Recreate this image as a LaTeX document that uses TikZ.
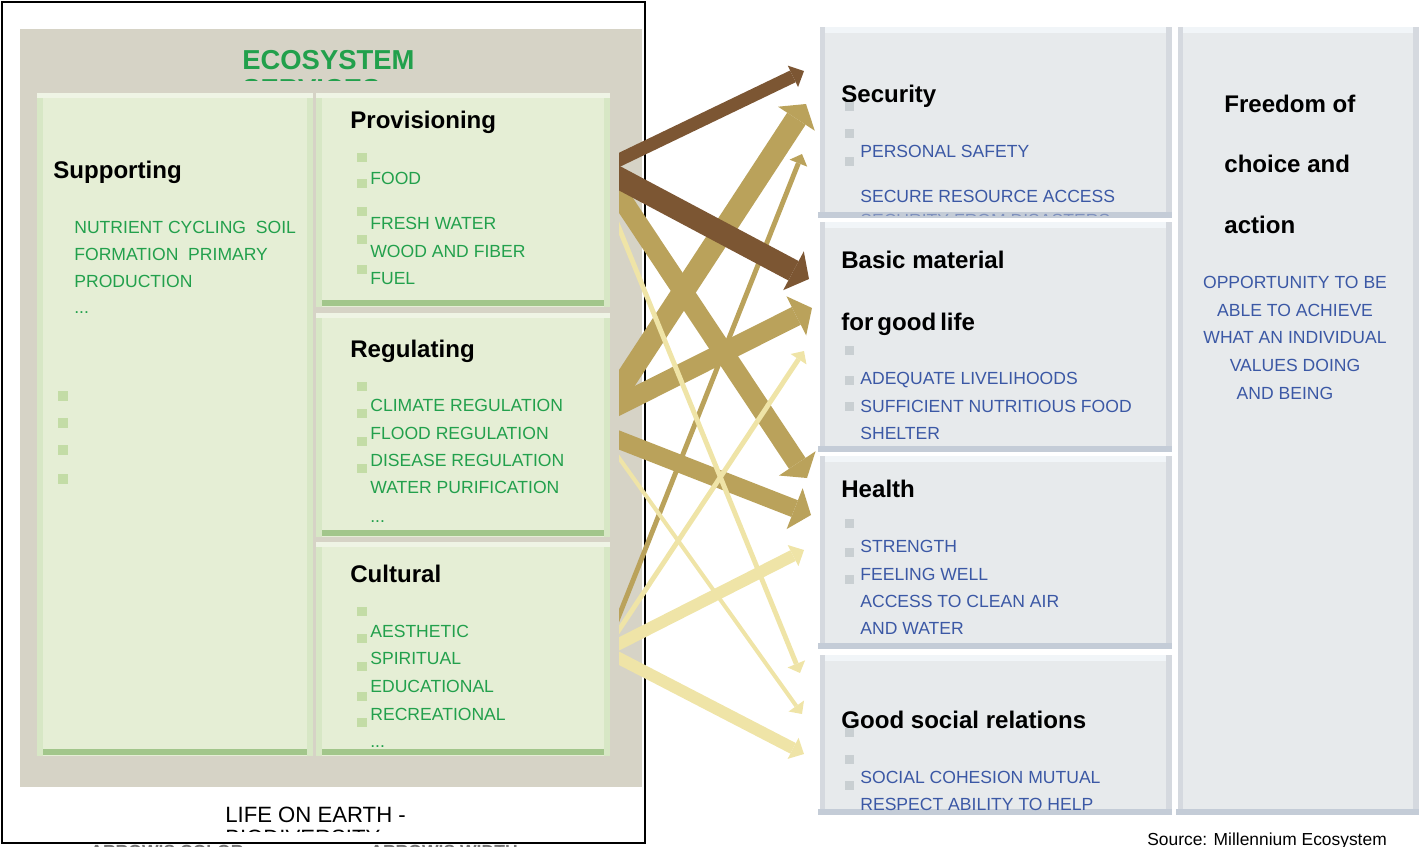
\documentclass[tikz,border=0pt]{standalone}
\usepackage{fontspec}
\setmainfont{Liberation Sans}
\usetikzlibrary{arrows.meta}

\definecolor{panelgray}{HTML}{D6D3C6}
\definecolor{svcfill}{HTML}{E5EED5}
\definecolor{svcside}{HTML}{D7E7C5}
\definecolor{svctop}{HTML}{EFF4E5}
\definecolor{svcbase}{HTML}{A2C68B}
\definecolor{svcdot}{HTML}{C3DCA6}
\definecolor{svcgreen}{HTML}{22A04C}
\definecolor{wbfill}{HTML}{E7EAEC}
\definecolor{wbside}{HTML}{D5D9DF}
\definecolor{wbtop}{HTML}{F1F5F8}
\definecolor{wbbase}{HTML}{C4CCD7}
\definecolor{wbdot}{HTML}{C9CFD2}
\definecolor{wbblue}{HTML}{3B58A5}
\definecolor{flowbrown}{HTML}{7C5633}
\definecolor{flowtan}{HTML}{BAA25B}
\definecolor{flowlight}{HTML}{EFE4A7}

% green service box: fill, side strips, light top, dark base
\newcommand{\svcbox}[4]{%
  \fill[svcfill] (#1,#2) rectangle (#3,#4);
  \fill[svcside] (#1,#2) rectangle (#1+6,#4);
  \fill[svcside] (#3-6,#2) rectangle (#3,#4);
  \fill[svctop] (#1,#2) rectangle (#3,#2+5);
  \fill[svcbase] (#1+6,#4-7) rectangle (#3-6,#4-1);
}
% grey well-being box
\newcommand{\wbbox}[4]{%
  \fill[wbfill] (#1,#2) rectangle (#3,#4);
  \fill[wbside] (#1,#2) rectangle (#1+5,#4);
  \fill[wbside] (#3-6,#2) rectangle (#3,#4);
  \fill[wbtop] (#1+5,#2) rectangle (#3-6,#2+6);
  \fill[wbbase] (#1-2,#4-6) rectangle (#3,#4);
}

\tikzset{
  title/.style={anchor=base west, inner sep=0pt, text=svcgreen,
    font=\fontsize{15.6}{18}\selectfont\bfseries},
  head/.style={anchor=base west, inner sep=0pt,
    font=\fontsize{13.7}{16}\selectfont\bfseries},
  svc/.style={anchor=base west, inner sep=0pt, text=svcgreen,
    font=\fontsize{10}{12}\selectfont},
  wb/.style={anchor=base west, inner sep=0pt, text=wbblue,
    font=\fontsize{10}{12}\selectfont},
  wbc/.style={wb, anchor=base},
  bigflow/.style={line width=#1, -{Triangle[length=10pt,width=25pt,line width=0pt]}},
  midflow/.style={line width=#1, -{Triangle[length=7pt,width=13.5pt,line width=0pt]}},
  thinflow/.style={line width=#1, -{Triangle[length=5.6pt,width=10.8pt,line width=0pt]}},
}

\begin{document}
\begin{tikzpicture}[x=0.02cm, y=-0.02cm]
\useasboundingbox (0,0) rectangle (1419,846);

% ecosystem services side
\fill[panelgray] (20,29) rectangle (642,787);
\draw[line width=1.1pt] (2,2) rectangle (645,843);

\begin{scope}
\clip (20,29) rectangle (642,80.5);
\node[title] (title) at (242,69) {ECOSYSTEM};
\node[title] (title2) at (242,98) {SERVICES};
\end{scope}

\svcbox{37}{93}{313}{756}
\svcbox{316}{93}{610}{307}
\svcbox{316}{313}{610}{537}
\svcbox{316}{542}{610}{756}

\node[head] (supp) at (53,178) {Supporting};
\node[svc] (supp1) at (74,233) {NUTRIENT CYCLING~~SOIL};
\node[svc] (supp2) at (74,260) {FORMATION~~PRIMARY};
\node[svc] (supp3) at (74,287) {PRODUCTION};
\node[svc] (supp4) at (74,313) {...};
\foreach \y in {396,423,450,479}
  \fill[svcdot] (58,\y-5) rectangle (68,\y+5);

\node[head] (prov) at (350,128) {Provisioning};
\node[svc] (prov1) at (370,184) {FOOD};
\node[svc] (prov2) at (370,229) {FRESH WATER};
\node[svc] (prov3) at (370,257) {WOOD AND FIBER};
\node[svc] (prov4) at (370,284) {FUEL};
\foreach \y in {157.5,183.5,211.5,239.5,269.5}
  \fill[svcdot] (357,\y-4.5) rectangle (367,\y+4.5);

\node[head] (reg) at (350,357) {Regulating};
\node[svc] (reg1) at (370,411) {CLIMATE REGULATION};
\node[svc] (reg2) at (370,439) {FLOOD REGULATION};
\node[svc] (reg3) at (370,466) {DISEASE REGULATION};
\node[svc] (reg4) at (370,493) {WATER PURIFICATION};
\node[svc] (reg5) at (370,522) {...};
\foreach \y in {386.5,413,441.5,468.5}
  \fill[svcdot] (357,\y-4.5) rectangle (367,\y+4.5);

\node[head] (cult) at (350,582) {Cultural};
\node[svc] (cult1) at (370,637) {AESTHETIC};
\node[svc] (cult2) at (370,664) {SPIRITUAL};
\node[svc] (cult3) at (370,692) {EDUCATIONAL};
\node[svc] (cult4) at (370,720) {RECREATIONAL};
\node[svc] (cult5) at (370,747) {...};
\foreach \y in {611.5,638.5,666.5,696.5,722}
  \fill[svcdot] (357,\y-4.5) rectangle (367,\y+4.5);

\node[anchor=base west, inner sep=0pt, font=\fontsize{12.6}{15}\selectfont]
  (life) at (225,822) {LIFE ON EARTH -};
\begin{scope}
\clip (200,824) rectangle (500,831);
\node[anchor=base west, inner sep=0pt, font=\fontsize{12.6}{15}\selectfont]
  (life2) at (225,845) {BIODIVERSITY};
\end{scope}
\begin{scope}
\clip (0,844.6) rectangle (645,846);
\node[anchor=base west, inner sep=0pt, text=black!55, font=\fontsize{10}{12}\selectfont\bfseries]
  (key1) at (90,857.5) {ARROW'S COLOR};
\node[anchor=base west, inner sep=0pt, text=black!55, font=\fontsize{10}{12}\selectfont\bfseries]
  (key2) at (370,857.5) {ARROW'S WIDTH};
\end{scope}

% well-being side
\wbbox{820}{27}{1172}{218}
\wbbox{820}{222}{1172}{452}
\wbbox{820}{456}{1172}{649}
\wbbox{820}{655}{1172}{815}
\wbbox{1178}{27}{1419}{815}

\node[head] (sec) at (841,102) {Security};
\node[wb] (sec1) at (860,157) {PERSONAL SAFETY};
\node[wb] (sec2) at (860,202) {SECURE RESOURCE ACCESS};
\begin{scope}
\clip (820,212) rectangle (1172,215.5);
\node[wb, opacity=0.5] (sec3) at (860,226) {SECURITY FROM DISASTERS};
\end{scope}
\foreach \y in {106,133,161}
  \fill[wbdot] (845,\y-4.5) rectangle (854,\y+4.5);

\node[head] (mat) at (841,268) {Basic material};
\node[head] (mat2) at (841,330) {for\,good\,life};
\node[wb] (mat3) at (860,384) {ADEQUATE LIVELIHOODS};
\node[wb] (mat4) at (860,412) {SUFFICIENT NUTRITIOUS FOOD};
\node[wb] (mat5) at (860,439) {SHELTER};
\foreach \y in {350.5,380.5,406.5}
  \fill[wbdot] (845,\y-4.5) rectangle (854,\y+4.5);

\node[head] (hlth) at (841,497) {Health};
\node[wb] (hlth1) at (860,552) {STRENGTH};
\node[wb] (hlth2) at (860,580) {FEELING WELL};
\node[wb] (hlth3) at (860,607) {ACCESS TO CLEAN AIR};
\node[wb] (hlth4) at (860,634) {AND WATER};
\foreach \y in {523,552,579}
  \fill[wbdot] (845,\y-4.5) rectangle (854,\y+4.5);

\node[head] (soc) at (841,728) {Good social relations};
\node[wb] (soc1) at (860,783) {SOCIAL COHESION MUTUAL};
\node[wb] (soc2) at (860,810) {RESPECT ABILITY TO HELP};
\foreach \y in {732.5,759,785}
  \fill[wbdot] (845,\y-4.5) rectangle (854,\y+4.5);

\node[head] (free) at (1224,112) {Freedom of};
\node[head] (free2) at (1224,172) {choice and};
\node[head] (free3) at (1224,233) {action};
\node[wbc] (free4) at (1295,288) {OPPORTUNITY TO BE};
\node[wbc] (free5) at (1295,316) {ABLE TO ACHIEVE};
\node[wbc] (free6) at (1295,343) {WHAT AN INDIVIDUAL};
\node[wbc] (free7) at (1295,371) {VALUES DOING};
\node[wbc] (free8) at (1285,399) {AND BEING};

\node[anchor=base west, inner sep=0pt, font=\fontsize{9.9}{12}\selectfont]
  (source) at (1147,845) {Source: Millennium Ecosystem};

% flow ends: service side
\coordinate (prov-a) at (605,166.7);
\coordinate (prov-b) at (605,170.6);
\coordinate (prov-c) at (605,173.9);
\coordinate (prov-d) at (605,193.6);
\coordinate (reg-a) at (605,411.4);
\coordinate (reg-b) at (605,412);
\coordinate (reg-c) at (605,434.5);
\coordinate (reg-d) at (605,438.4);
\coordinate (cult-o) at (605,651);
% flow ends: well-being side
\coordinate (sec-a) at (804,71);
\coordinate (sec-b) at (806,104);
\coordinate (sec-c) at (802,154);
\coordinate (mat-a) at (809,279);
\coordinate (mat-b) at (812,308);
\coordinate (mat-c) at (804,351);
\coordinate (hlth-a) at (807,478);
\coordinate (hlth-b) at (811,515);
\coordinate (hlth-c) at (804,550);
\coordinate (soc-a) at (800,673);
\coordinate (soc-b) at (802,714);
\coordinate (soc-c) at (804,754);

\begin{scope}
\clip (619,0) rectangle (830,846);
\draw[flowtan, bigflow=11.3pt] (prov-c) -- (hlth-a);
\draw[flowtan, bigflow=12.5pt] (reg-a) -- (sec-b);
\draw[flowtan, bigflow=11.3pt] (reg-b) -- (mat-b);
\draw[flowtan, bigflow=10.2pt] (reg-c) -- (hlth-b);
\draw[flowtan, thinflow=2.8pt] (cult-o) -- (sec-c);
\draw[flowlight, thinflow=2.8pt] (prov-d) -- (soc-a);
\draw[flowlight, thinflow=2.3pt] (reg-d) -- (soc-b);
\draw[flowlight, thinflow=2.8pt] (cult-o) -- (mat-c);
\draw[flowlight, midflow=6.8pt] (cult-o) -- (hlth-c);
\draw[flowlight, midflow=6.8pt] (cult-o) -- (soc-c);
\draw[flowbrown, midflow=7.4pt] (prov-a) -- (sec-a);
\draw[flowbrown, bigflow=12.5pt] (prov-b) -- (mat-a);
\end{scope}
\end{tikzpicture}
\end{document}
